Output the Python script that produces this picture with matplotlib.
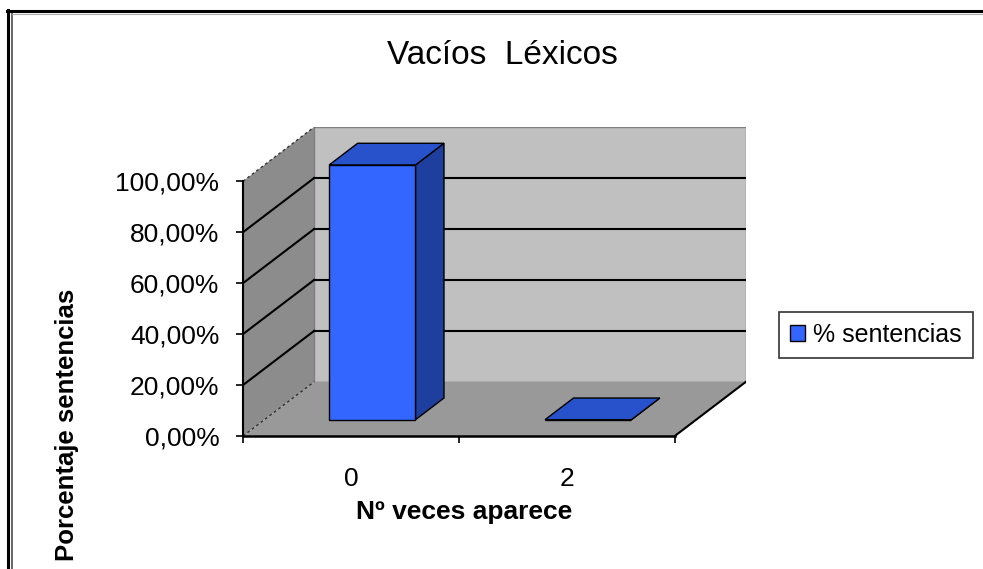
import matplotlib.pyplot as plt
from matplotlib.patches import Polygon, Patch
from matplotlib.lines import Line2D

plt.rcParams['font.family'] = ['Liberation Sans', 'DejaVu Sans']

categories = ['0', '2']
values = [100.0, 0.0]          # % sentencias
yticks = [0, 20, 40, 60, 80, 100]
ytick_labels = ['0,00%', '20,00%', '40,00%', '60,00%', '80,00%', '100,00%']
series_name = '% sentencias'

# oblique 3D look: depth offset in data units
DX, DY = 0.33, 21.3
BAR_W = 0.40
Z0, Z1 = 0.30, 0.70


def P(x, y, z):
    return (x + z * DX, y + z * DY)


W, H = 983, 569
fig = plt.figure(figsize=(W / 100, H / 100), dpi=100)
ax = fig.add_axes([243 / W, (H - 436) / H, (746 - 243) / W, (436 - 127) / H])
n = len(categories)
ax.set_xlim(0, n + DX)
ax.set_ylim(0, 100 + DY)
ax.patch.set_visible(False)

# walls and floor
side = Polygon([P(0, 0, 0), P(0, 0, 1), P(0, 100, 1), P(0, 100, 0)],
               closed=True, facecolor='#8c8c8c', edgecolor='none', zorder=1)
back = Polygon([P(0, 0, 1), P(n, 0, 1), P(n, 100, 1), P(0, 100, 1)],
               closed=True, facecolor='#c0c0c0', edgecolor='#808080', lw=1, zorder=1)
floor = Polygon([P(0, 0, 0), P(n, 0, 0), P(n, 0, 1), P(0, 0, 1)],
                closed=True, facecolor='#999999', edgecolor='none', zorder=1)
for p in (side, back, floor):
    ax.add_patch(p)

# gridlines
for yv in yticks:
    a, b = P(0, yv, 0), P(0, yv, 1)
    if yv in (0, 100):
        ax.plot([a[0], b[0]], [a[1], b[1]], color='#333333', lw=1, ls=(0, (2, 2)), zorder=2)
    else:
        ax.plot([a[0], b[0]], [a[1], b[1]], color='black', lw=1.5, zorder=2)
        c, d = P(0, yv, 1), P(n, yv, 1)
        ax.plot([c[0], d[0]], [c[1], d[1]], color='black', lw=1.5, zorder=2)
a, b = P(n, 0, 0), P(n, 0, 1)
ax.plot([a[0], b[0]], [a[1], b[1]], color='black', lw=1.5, zorder=2)

# bars
for i, v in enumerate(values):
    c = i + 0.5
    x0, x1 = c - BAR_W / 2, c + BAR_W / 2
    front = [P(x0, 0, Z0), P(x1, 0, Z0), P(x1, v, Z0), P(x0, v, Z0)]
    rside = [P(x1, 0, Z0), P(x1, 0, Z1), P(x1, v, Z1), P(x1, v, Z0)]
    top = [P(x0, v, Z0), P(x1, v, Z0), P(x1, v, Z1), P(x0, v, Z1)]
    for pts, col in ((rside, '#1f3f9e'), (top, '#2852cc'), (front, '#3366ff')):
        ax.add_patch(Polygon(pts, closed=True, facecolor=col, edgecolor='black',
                             lw=1, joinstyle='miter', zorder=3))

# axes
for s in ('top', 'right'):
    ax.spines[s].set_visible(False)
ax.spines['left'].set_bounds(0, 100)
ax.spines['bottom'].set_bounds(0, n)
ax.spines['left'].set_linewidth(1.5)
ax.spines['bottom'].set_linewidth(1.8)
ax.spines['left'].set_zorder(4)
ax.spines['bottom'].set_zorder(4)
ax.set_yticks(yticks)
ax.set_yticklabels(ytick_labels)
ax.tick_params(axis='y', direction='out', length=5, width=1.2, pad=12, labelsize=19)
ax.set_xticks(range(n + 1))
ax.set_xticklabels([])
ax.set_xticks([i + 0.5 for i in range(n)], minor=True)
ax.set_xticklabels(categories, minor=True)
ax.tick_params(axis='x', which='major', direction='out', length=5, width=1.2)
ax.tick_params(axis='x', which='minor', length=0, pad=22, labelsize=19)

# texts
fig.text(502 / W, 1 - 55 / H, 'Vacíos  Léxicos', ha='center', va='center', fontsize=24)
fig.text(464 / W, 1 - 512 / H, 'Nº veces aparece', ha='center', va='center',
         fontsize=19, fontweight='bold')
fig.text(67 / W, 1 - 425 / H, 'Porcentaje sentencias', ha='center', va='center',
         rotation=90, fontsize=18.5, fontweight='bold')

# legend
handle = Patch(facecolor='#3366ff', edgecolor='black', label=series_name)
leg = fig.legend(handles=[handle], loc='center left', bbox_to_anchor=(779 / W, 1 - 335 / H),
                 fontsize=18, frameon=True, fancybox=False, handlelength=0.6,
                 handleheight=0.6, handletextpad=0.3, borderpad=0.45, borderaxespad=0)
leg.get_frame().set_edgecolor('black')
leg.get_frame().set_linewidth(1.2)

# outer frame
fig.add_artist(Line2D([7.5 / W, 7.5 / W], [0, 1 - 10 / H], color='black', lw=2.2))
fig.add_artist(Line2D([11.5 / W, 11.5 / W], [0, 1 - 13 / H], color='#666666', lw=1.4))
fig.add_artist(Line2D([6.5 / W, 1], [1 - 11 / H, 1 - 11 / H], color='black', lw=2.2))
fig.add_artist(Line2D([11.5 / W, 1], [1 - 14 / H, 1 - 14 / H], color='#aaaaaa', lw=0.8))

fig.savefig('out.png', dpi=100)
